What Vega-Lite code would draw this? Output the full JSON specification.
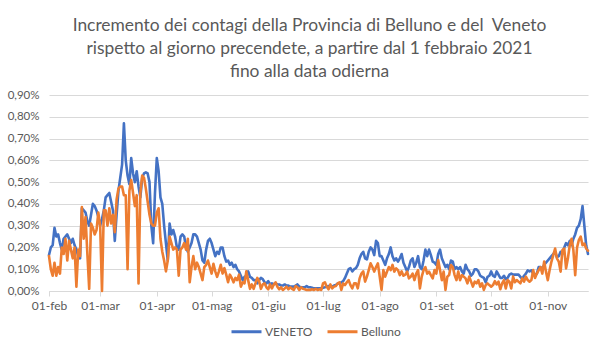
{
  "$schema": "https://vega.github.io/schema/vega-lite/v6.json",
  "width": 539,
  "height": 196,
  "autosize": {"type": "none"},
  "padding": {"left": 49, "top": 95, "right": 14, "bottom": 62},
  "background": "white",
  "title": {
    "text": ["Incremento dei contagi della Provincia di Belluno e del \u00a0Veneto", "rispetto al giorno precendete, a partire dal 1 febbraio 2021", "fino alla data odierna"],
    "anchor": "middle",
    "frame": "group",
    "dx": -9,
    "offset": 9,
    "font": "Lato",
    "fontSize": 17.4,
    "fontWeight": "normal",
    "color": "#595959",
    "lineHeight": 23
  },
  "data": {"values": [
{"date":"2021-02-01","VENETO":0.165,"Belluno":0.16},
{"date":"2021-02-02","VENETO":0.20,"Belluno":0.10},
{"date":"2021-02-03","VENETO":0.21,"Belluno":0.07},
{"date":"2021-02-04","VENETO":0.29,"Belluno":0.13},
{"date":"2021-02-05","VENETO":0.25,"Belluno":0.07},
{"date":"2021-02-06","VENETO":0.26,"Belluno":0.11},
{"date":"2021-02-07","VENETO":0.22,"Belluno":0.08},
{"date":"2021-02-08","VENETO":0.19,"Belluno":0.20},
{"date":"2021-02-09","VENETO":0.24,"Belluno":0.17},
{"date":"2021-02-10","VENETO":0.25,"Belluno":0.24},
{"date":"2021-02-11","VENETO":0.26,"Belluno":0.14},
{"date":"2021-02-12","VENETO":0.24,"Belluno":0.23},
{"date":"2021-02-13","VENETO":0.22,"Belluno":0.19},
{"date":"2021-02-14","VENETO":0.24,"Belluno":0.15},
{"date":"2021-02-15","VENETO":0.21,"Belluno":0.20},
{"date":"2021-02-16","VENETO":0.19,"Belluno":0.02},
{"date":"2021-02-17","VENETO":0.16,"Belluno":0.19},
{"date":"2021-02-18","VENETO":0.15,"Belluno":0.16},
{"date":"2021-02-19","VENETO":0.38,"Belluno":0.385},
{"date":"2021-02-20","VENETO":0.37,"Belluno":0.24},
{"date":"2021-02-21","VENETO":0.36,"Belluno":0.34},
{"date":"2021-02-22","VENETO":0.32,"Belluno":0.17},
{"date":"2021-02-23","VENETO":0.30,"Belluno":0.01},
{"date":"2021-02-24","VENETO":0.35,"Belluno":0.31},
{"date":"2021-02-25","VENETO":0.40,"Belluno":0.29},
{"date":"2021-02-26","VENETO":0.39,"Belluno":0.26},
{"date":"2021-02-27","VENETO":0.37,"Belluno":0.28},
{"date":"2021-02-28","VENETO":0.34,"Belluno":0.36},
{"date":"2021-03-01","VENETO":0.30,"Belluno":0.30},
{"date":"2021-03-02","VENETO":0.33,"Belluno":0.0},
{"date":"2021-03-03","VENETO":0.37,"Belluno":0.37},
{"date":"2021-03-04","VENETO":0.43,"Belluno":0.37},
{"date":"2021-03-05","VENETO":0.44,"Belluno":0.30},
{"date":"2021-03-06","VENETO":0.45,"Belluno":0.38},
{"date":"2021-03-07","VENETO":0.41,"Belluno":0.31},
{"date":"2021-03-08","VENETO":0.37,"Belluno":0.35},
{"date":"2021-03-09","VENETO":0.23,"Belluno":0.27},
{"date":"2021-03-10","VENETO":0.35,"Belluno":0.42},
{"date":"2021-03-11","VENETO":0.46,"Belluno":0.47},
{"date":"2021-03-12","VENETO":0.52,"Belluno":0.48},
{"date":"2021-03-13","VENETO":0.58,"Belluno":0.48},
{"date":"2021-03-14","VENETO":0.77,"Belluno":0.44},
{"date":"2021-03-15","VENETO":0.60,"Belluno":0.44},
{"date":"2021-03-16","VENETO":0.53,"Belluno":0.10},
{"date":"2021-03-17","VENETO":0.49,"Belluno":0.46},
{"date":"2021-03-18","VENETO":0.61,"Belluno":0.51},
{"date":"2021-03-19","VENETO":0.54,"Belluno":0.45},
{"date":"2021-03-20","VENETO":0.50,"Belluno":0.39},
{"date":"2021-03-21","VENETO":0.55,"Belluno":0.44},
{"date":"2021-03-22","VENETO":0.48,"Belluno":0.035},
{"date":"2021-03-23","VENETO":0.43,"Belluno":0.45},
{"date":"2021-03-24","VENETO":0.52,"Belluno":0.53},
{"date":"2021-03-25","VENETO":0.54,"Belluno":0.52},
{"date":"2021-03-26","VENETO":0.545,"Belluno":0.47},
{"date":"2021-03-27","VENETO":0.54,"Belluno":0.41},
{"date":"2021-03-28","VENETO":0.50,"Belluno":0.35},
{"date":"2021-03-29","VENETO":0.30,"Belluno":0.31},
{"date":"2021-03-30","VENETO":0.22,"Belluno":0.30},
{"date":"2021-03-31","VENETO":0.45,"Belluno":0.30},
{"date":"2021-04-01","VENETO":0.61,"Belluno":0.36},
{"date":"2021-04-02","VENETO":0.55,"Belluno":0.38},
{"date":"2021-04-03","VENETO":0.43,"Belluno":0.24},
{"date":"2021-04-04","VENETO":0.40,"Belluno":0.18},
{"date":"2021-04-05","VENETO":0.30,"Belluno":0.14},
{"date":"2021-04-06","VENETO":0.22,"Belluno":0.09},
{"date":"2021-04-07","VENETO":0.14,"Belluno":0.14},
{"date":"2021-04-08","VENETO":0.31,"Belluno":0.25},
{"date":"2021-04-09","VENETO":0.26,"Belluno":0.22},
{"date":"2021-04-10","VENETO":0.28,"Belluno":0.19},
{"date":"2021-04-11","VENETO":0.25,"Belluno":0.20},
{"date":"2021-04-12","VENETO":0.20,"Belluno":0.19},
{"date":"2021-04-13","VENETO":0.19,"Belluno":0.07},
{"date":"2021-04-14","VENETO":0.25,"Belluno":0.19},
{"date":"2021-04-15","VENETO":0.26,"Belluno":0.20},
{"date":"2021-04-16","VENETO":0.25,"Belluno":0.22},
{"date":"2021-04-17","VENETO":0.20,"Belluno":0.19},
{"date":"2021-04-18","VENETO":0.18,"Belluno":0.24},
{"date":"2021-04-19","VENETO":0.20,"Belluno":0.04},
{"date":"2021-04-20","VENETO":0.22,"Belluno":0.11},
{"date":"2021-04-21","VENETO":0.26,"Belluno":0.16},
{"date":"2021-04-22","VENETO":0.26,"Belluno":0.10},
{"date":"2021-04-23","VENETO":0.25,"Belluno":0.13},
{"date":"2021-04-24","VENETO":0.22,"Belluno":0.11},
{"date":"2021-04-25","VENETO":0.19,"Belluno":0.08},
{"date":"2021-04-26","VENETO":0.14,"Belluno":0.05},
{"date":"2021-04-27","VENETO":0.13,"Belluno":0.11},
{"date":"2021-04-28","VENETO":0.19,"Belluno":0.12},
{"date":"2021-04-29","VENETO":0.23,"Belluno":0.14},
{"date":"2021-04-30","VENETO":0.24,"Belluno":0.11},
{"date":"2021-05-01","VENETO":0.22,"Belluno":0.08},
{"date":"2021-05-02","VENETO":0.19,"Belluno":0.125},
{"date":"2021-05-03","VENETO":0.16,"Belluno":0.09},
{"date":"2021-05-04","VENETO":0.18,"Belluno":0.065},
{"date":"2021-05-05","VENETO":0.17,"Belluno":0.09},
{"date":"2021-05-06","VENETO":0.20,"Belluno":0.12},
{"date":"2021-05-07","VENETO":0.20,"Belluno":0.08},
{"date":"2021-05-08","VENETO":0.16,"Belluno":0.105},
{"date":"2021-05-09","VENETO":0.135,"Belluno":0.075},
{"date":"2021-05-10","VENETO":0.14,"Belluno":0.04},
{"date":"2021-05-11","VENETO":0.12,"Belluno":0.075},
{"date":"2021-05-12","VENETO":0.13,"Belluno":0.06},
{"date":"2021-05-13","VENETO":0.11,"Belluno":0.04},
{"date":"2021-05-14","VENETO":0.12,"Belluno":0.06},
{"date":"2021-05-15","VENETO":0.10,"Belluno":0.05},
{"date":"2021-05-16","VENETO":0.09,"Belluno":0.075},
{"date":"2021-05-17","VENETO":0.07,"Belluno":0.02},
{"date":"2021-05-18","VENETO":0.05,"Belluno":0.04},
{"date":"2021-05-19","VENETO":0.065,"Belluno":0.035},
{"date":"2021-05-20","VENETO":0.07,"Belluno":0.09},
{"date":"2021-05-21","VENETO":0.09,"Belluno":0.05},
{"date":"2021-05-22","VENETO":0.065,"Belluno":0.01},
{"date":"2021-05-23","VENETO":0.06,"Belluno":0.03},
{"date":"2021-05-24","VENETO":0.05,"Belluno":0.01},
{"date":"2021-05-25","VENETO":0.05,"Belluno":0.035},
{"date":"2021-05-26","VENETO":0.035,"Belluno":0.06},
{"date":"2021-05-27","VENETO":0.05,"Belluno":0.045},
{"date":"2021-05-28","VENETO":0.06,"Belluno":0.01},
{"date":"2021-05-29","VENETO":0.055,"Belluno":0.03},
{"date":"2021-05-30","VENETO":0.04,"Belluno":0.035},
{"date":"2021-05-31","VENETO":0.035,"Belluno":0.017},
{"date":"2021-06-01","VENETO":0.045,"Belluno":0.008},
{"date":"2021-06-02","VENETO":0.03,"Belluno":0.03},
{"date":"2021-06-03","VENETO":0.035,"Belluno":0.012},
{"date":"2021-06-04","VENETO":0.03,"Belluno":0.03},
{"date":"2021-06-05","VENETO":0.035,"Belluno":0.04},
{"date":"2021-06-06","VENETO":0.03,"Belluno":0.02},
{"date":"2021-06-07","VENETO":0.03,"Belluno":0.008},
{"date":"2021-06-08","VENETO":0.025,"Belluno":0.017},
{"date":"2021-06-09","VENETO":0.025,"Belluno":0.005},
{"date":"2021-06-10","VENETO":0.03,"Belluno":0.012},
{"date":"2021-06-11","VENETO":0.025,"Belluno":0.02},
{"date":"2021-06-12","VENETO":0.025,"Belluno":0.008},
{"date":"2021-06-13","VENETO":0.02,"Belluno":0.017},
{"date":"2021-06-14","VENETO":0.02,"Belluno":0.01},
{"date":"2021-06-15","VENETO":0.02,"Belluno":0.005},
{"date":"2021-06-16","VENETO":0.025,"Belluno":0.023},
{"date":"2021-06-17","VENETO":0.03,"Belluno":0.017},
{"date":"2021-06-18","VENETO":0.02,"Belluno":0.005},
{"date":"2021-06-19","VENETO":0.017,"Belluno":0.017},
{"date":"2021-06-20","VENETO":0.017,"Belluno":0.01},
{"date":"2021-06-21","VENETO":0.017,"Belluno":0.008},
{"date":"2021-06-22","VENETO":0.023,"Belluno":0.005},
{"date":"2021-06-23","VENETO":0.017,"Belluno":0.005},
{"date":"2021-06-24","VENETO":0.017,"Belluno":0.005},
{"date":"2021-06-25","VENETO":0.015,"Belluno":0.008},
{"date":"2021-06-26","VENETO":0.012,"Belluno":0.005},
{"date":"2021-06-27","VENETO":0.012,"Belluno":0.01},
{"date":"2021-06-28","VENETO":0.012,"Belluno":0.005},
{"date":"2021-06-29","VENETO":0.012,"Belluno":0.008},
{"date":"2021-06-30","VENETO":0.012,"Belluno":0.005},
{"date":"2021-07-01","VENETO":0.015,"Belluno":0.035},
{"date":"2021-07-02","VENETO":0.017,"Belluno":0.04},
{"date":"2021-07-03","VENETO":0.02,"Belluno":0.02},
{"date":"2021-07-04","VENETO":0.023,"Belluno":0.008},
{"date":"2021-07-05","VENETO":0.02,"Belluno":0.03},
{"date":"2021-07-06","VENETO":0.02,"Belluno":0.012},
{"date":"2021-07-07","VENETO":0.025,"Belluno":0.02},
{"date":"2021-07-08","VENETO":0.028,"Belluno":0.023},
{"date":"2021-07-09","VENETO":0.035,"Belluno":0.035},
{"date":"2021-07-10","VENETO":0.035,"Belluno":0.04},
{"date":"2021-07-11","VENETO":0.04,"Belluno":0.005},
{"date":"2021-07-12","VENETO":0.045,"Belluno":0.035},
{"date":"2021-07-13","VENETO":0.06,"Belluno":0.027},
{"date":"2021-07-14","VENETO":0.08,"Belluno":0.04},
{"date":"2021-07-15","VENETO":0.10,"Belluno":0.05},
{"date":"2021-07-16","VENETO":0.105,"Belluno":0.027},
{"date":"2021-07-17","VENETO":0.09,"Belluno":0.012},
{"date":"2021-07-18","VENETO":0.10,"Belluno":0.035},
{"date":"2021-07-19","VENETO":0.105,"Belluno":0.035},
{"date":"2021-07-20","VENETO":0.12,"Belluno":0.012},
{"date":"2021-07-21","VENETO":0.15,"Belluno":0.058},
{"date":"2021-07-22","VENETO":0.17,"Belluno":0.08},
{"date":"2021-07-23","VENETO":0.18,"Belluno":0.09},
{"date":"2021-07-24","VENETO":0.15,"Belluno":0.043},
{"date":"2021-07-25","VENETO":0.145,"Belluno":0.066},
{"date":"2021-07-26","VENETO":0.18,"Belluno":0.096},
{"date":"2021-07-27","VENETO":0.20,"Belluno":0.127},
{"date":"2021-07-28","VENETO":0.19,"Belluno":0.11},
{"date":"2021-07-29","VENETO":0.165,"Belluno":0.089},
{"date":"2021-07-30","VENETO":0.23,"Belluno":0.11},
{"date":"2021-07-31","VENETO":0.22,"Belluno":0.127},
{"date":"2021-08-01","VENETO":0.16,"Belluno":0.066},
{"date":"2021-08-02","VENETO":0.16,"Belluno":0.005},
{"date":"2021-08-03","VENETO":0.14,"Belluno":0.096},
{"date":"2021-08-04","VENETO":0.12,"Belluno":0.066},
{"date":"2021-08-05","VENETO":0.15,"Belluno":0.089},
{"date":"2021-08-06","VENETO":0.17,"Belluno":0.11},
{"date":"2021-08-07","VENETO":0.20,"Belluno":0.096},
{"date":"2021-08-08","VENETO":0.16,"Belluno":0.12},
{"date":"2021-08-09","VENETO":0.14,"Belluno":0.089},
{"date":"2021-08-10","VENETO":0.15,"Belluno":0.104},
{"date":"2021-08-11","VENETO":0.135,"Belluno":0.096},
{"date":"2021-08-12","VENETO":0.15,"Belluno":0.073},
{"date":"2021-08-13","VENETO":0.17,"Belluno":0.09},
{"date":"2021-08-14","VENETO":0.13,"Belluno":0.07},
{"date":"2021-08-15","VENETO":0.11,"Belluno":0.075},
{"date":"2021-08-16","VENETO":0.09,"Belluno":0.089},
{"date":"2021-08-17","VENETO":0.11,"Belluno":0.058},
{"date":"2021-08-18","VENETO":0.14,"Belluno":0.066},
{"date":"2021-08-19","VENETO":0.15,"Belluno":0.08},
{"date":"2021-08-20","VENETO":0.11,"Belluno":0.05},
{"date":"2021-08-21","VENETO":0.13,"Belluno":0.08},
{"date":"2021-08-22","VENETO":0.16,"Belluno":0.096},
{"date":"2021-08-23","VENETO":0.11,"Belluno":0.012},
{"date":"2021-08-24","VENETO":0.10,"Belluno":0.066},
{"date":"2021-08-25","VENETO":0.14,"Belluno":0.096},
{"date":"2021-08-26","VENETO":0.19,"Belluno":0.11},
{"date":"2021-08-27","VENETO":0.16,"Belluno":0.08},
{"date":"2021-08-28","VENETO":0.19,"Belluno":0.089},
{"date":"2021-08-29","VENETO":0.165,"Belluno":0.073},
{"date":"2021-08-30","VENETO":0.135,"Belluno":0.058},
{"date":"2021-08-31","VENETO":0.13,"Belluno":0.096},
{"date":"2021-09-01","VENETO":0.12,"Belluno":0.08},
{"date":"2021-09-02","VENETO":0.17,"Belluno":0.142},
{"date":"2021-09-03","VENETO":0.19,"Belluno":0.096},
{"date":"2021-09-04","VENETO":0.15,"Belluno":0.05},
{"date":"2021-09-05","VENETO":0.13,"Belluno":0.089},
{"date":"2021-09-06","VENETO":0.11,"Belluno":0.005},
{"date":"2021-09-07","VENETO":0.12,"Belluno":0.066},
{"date":"2021-09-08","VENETO":0.10,"Belluno":0.073},
{"date":"2021-09-09","VENETO":0.14,"Belluno":0.119},
{"date":"2021-09-10","VENETO":0.135,"Belluno":0.11},
{"date":"2021-09-11","VENETO":0.10,"Belluno":0.073},
{"date":"2021-09-12","VENETO":0.11,"Belluno":0.05},
{"date":"2021-09-13","VENETO":0.10,"Belluno":0.089},
{"date":"2021-09-14","VENETO":0.11,"Belluno":0.05},
{"date":"2021-09-15","VENETO":0.09,"Belluno":0.073},
{"date":"2021-09-16","VENETO":0.08,"Belluno":0.066},
{"date":"2021-09-17","VENETO":0.12,"Belluno":0.058},
{"date":"2021-09-18","VENETO":0.10,"Belluno":0.035},
{"date":"2021-09-19","VENETO":0.09,"Belluno":0.066},
{"date":"2021-09-20","VENETO":0.07,"Belluno":0.043},
{"date":"2021-09-21","VENETO":0.08,"Belluno":0.02},
{"date":"2021-09-22","VENETO":0.10,"Belluno":0.043},
{"date":"2021-09-23","VENETO":0.10,"Belluno":0.035},
{"date":"2021-09-24","VENETO":0.09,"Belluno":0.05},
{"date":"2021-09-25","VENETO":0.07,"Belluno":0.02},
{"date":"2021-09-26","VENETO":0.065,"Belluno":0.035},
{"date":"2021-09-27","VENETO":0.06,"Belluno":0.005},
{"date":"2021-09-28","VENETO":0.04,"Belluno":0.027},
{"date":"2021-09-29","VENETO":0.065,"Belluno":0.035},
{"date":"2021-09-30","VENETO":0.07,"Belluno":0.027},
{"date":"2021-10-01","VENETO":0.09,"Belluno":0.02},
{"date":"2021-10-02","VENETO":0.07,"Belluno":0.027},
{"date":"2021-10-03","VENETO":0.065,"Belluno":0.045},
{"date":"2021-10-04","VENETO":0.09,"Belluno":0.03},
{"date":"2021-10-05","VENETO":0.075,"Belluno":0.043},
{"date":"2021-10-06","VENETO":0.06,"Belluno":0.008},
{"date":"2021-10-07","VENETO":0.06,"Belluno":0.035},
{"date":"2021-10-08","VENETO":0.07,"Belluno":0.05},
{"date":"2021-10-09","VENETO":0.055,"Belluno":0.012},
{"date":"2021-10-10","VENETO":0.06,"Belluno":0.05},
{"date":"2021-10-11","VENETO":0.075,"Belluno":0.043},
{"date":"2021-10-12","VENETO":0.08,"Belluno":0.012},
{"date":"2021-10-13","VENETO":0.075,"Belluno":0.066},
{"date":"2021-10-14","VENETO":0.075,"Belluno":0.04},
{"date":"2021-10-15","VENETO":0.075,"Belluno":0.05},
{"date":"2021-10-16","VENETO":0.075,"Belluno":0.043},
{"date":"2021-10-17","VENETO":0.065,"Belluno":0.035},
{"date":"2021-10-18","VENETO":0.055,"Belluno":0.058},
{"date":"2021-10-19","VENETO":0.07,"Belluno":0.043},
{"date":"2021-10-20","VENETO":0.08,"Belluno":0.066},
{"date":"2021-10-21","VENETO":0.095,"Belluno":0.05},
{"date":"2021-10-22","VENETO":0.09,"Belluno":0.043},
{"date":"2021-10-23","VENETO":0.095,"Belluno":0.05},
{"date":"2021-10-24","VENETO":0.08,"Belluno":0.096},
{"date":"2021-10-25","VENETO":0.075,"Belluno":0.06},
{"date":"2021-10-26","VENETO":0.08,"Belluno":0.08},
{"date":"2021-10-27","VENETO":0.11,"Belluno":0.096},
{"date":"2021-10-28","VENETO":0.11,"Belluno":0.11},
{"date":"2021-10-29","VENETO":0.10,"Belluno":0.08},
{"date":"2021-10-30","VENETO":0.12,"Belluno":0.135},
{"date":"2021-10-31","VENETO":0.13,"Belluno":0.089},
{"date":"2021-11-01","VENETO":0.14,"Belluno":0.05},
{"date":"2021-11-02","VENETO":0.15,"Belluno":0.096},
{"date":"2021-11-03","VENETO":0.16,"Belluno":0.135},
{"date":"2021-11-04","VENETO":0.17,"Belluno":0.165},
{"date":"2021-11-05","VENETO":0.18,"Belluno":0.195},
{"date":"2021-11-06","VENETO":0.155,"Belluno":0.15},
{"date":"2021-11-07","VENETO":0.16,"Belluno":0.135},
{"date":"2021-11-08","VENETO":0.18,"Belluno":0.089},
{"date":"2021-11-09","VENETO":0.17,"Belluno":0.188},
{"date":"2021-11-10","VENETO":0.20,"Belluno":0.195},
{"date":"2021-11-11","VENETO":0.22,"Belluno":0.104},
{"date":"2021-11-12","VENETO":0.21,"Belluno":0.15},
{"date":"2021-11-13","VENETO":0.23,"Belluno":0.21},
{"date":"2021-11-14","VENETO":0.21,"Belluno":0.24},
{"date":"2021-11-15","VENETO":0.24,"Belluno":0.188},
{"date":"2021-11-16","VENETO":0.26,"Belluno":0.073},
{"date":"2021-11-17","VENETO":0.29,"Belluno":0.20},
{"date":"2021-11-18","VENETO":0.30,"Belluno":0.234},
{"date":"2021-11-19","VENETO":0.33,"Belluno":0.25},
{"date":"2021-11-20","VENETO":0.39,"Belluno":0.21},
{"date":"2021-11-21","VENETO":0.30,"Belluno":0.218},
{"date":"2021-11-22","VENETO":0.21,"Belluno":0.195},
{"date":"2021-11-23","VENETO":0.17,"Belluno":0.185}
  ]},
  "transform": [{"fold": ["VENETO", "Belluno"], "as": ["serie", "valore"]}],
  "encoding": {
    "x": {
      "field": "date",
      "type": "temporal",
      "scale": {"type": "utc", "nice": false},
      "axis": {
        "title": null,
        "tickCount": "month",
        "labelExpr": "utcFormat(datum.value, '%d') + '-' + ['gen','feb','mar','apr','mag','giu','lug','ago','set','ott','nov','dic'][utcmonth(datum.value)]",
        "grid": false,
        "domainColor": "#D9D9D9",
        "tickColor": "#D9D9D9",
        "tickSize": 5,
        "labelColor": "#595959",
        "labelFont": "Lato",
        "labelFontSize": 12,
        "labelPadding": 4,
        "labelFlush": false,
        "labelOverlap": false
      }
    },
    "y": {
      "field": "valore",
      "type": "quantitative",
      "scale": {"domain": [0, 0.9], "nice": false},
      "axis": {
        "title": null,
        "values": [0, 0.1, 0.2, 0.3, 0.4, 0.5, 0.6, 0.7, 0.8, 0.9],
        "labelExpr": "replace(format(datum.value, '.2f'), '.', ',') + '%'",
        "domain": false,
        "ticks": false,
        "gridColor": "#D9D9D9",
        "gridWidth": 1,
        "labelColor": "#595959",
        "labelFont": "Lato",
        "labelFontSize": 11.5,
        "labelPadding": 10
      }
    },
    "color": {
      "field": "serie",
      "type": "nominal",
      "scale": {"domain": ["VENETO", "Belluno"], "range": ["#4472C4", "#ED7D31"]},
      "legend": {
        "title": null,
        "orient": "none",
        "legendX": 181,
        "legendY": 220,
        "direction": "horizontal",
        "symbolType": "stroke",
        "symbolStrokeWidth": 3,
        "symbolSize": 900,
        "labelFont": "Lato",
        "labelFontSize": 12,
        "labelColor": "#595959",
        "labelOffset": 2,
        "columnPadding": 8
      }
    }
  },
  "layer": [
    {"transform": [{"filter": "datum.serie == 'VENETO'"}], "mark": {"type": "line", "strokeWidth": 2.6, "strokeJoin": "round", "strokeCap": "round"}},
    {"transform": [{"filter": "datum.serie == 'Belluno'"}], "mark": {"type": "line", "strokeWidth": 2.6, "strokeJoin": "round", "strokeCap": "round"}}
  ],
  "config": {"view": {"stroke": null}}
}
